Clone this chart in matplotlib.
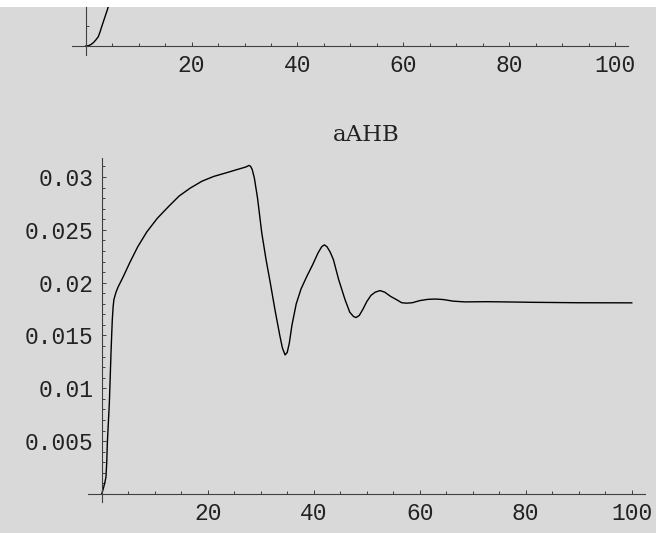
import matplotlib.pyplot as plt
from matplotlib.patches import Rectangle
from matplotlib.ticker import FixedLocator, FixedFormatter

# top panel (only its lower strip is visible)
top_t = [0.0, 0.19, 0.6, 1.0, 1.44, 1.9, 2.38, 2.7, 3.02, 3.65, 4.28, 5.0]
top_val = [0.0, 0.0, 0.005, 0.015, 0.033, 0.06, 0.093, 0.14, 0.193, 0.293,
           0.393, 0.5]

# aAHB
t = [0.0, 0.3, 0.6, 0.8, 0.95, 1.06, 1.25, 1.44, 1.6, 1.75, 1.9, 2.0, 2.15,
     2.3, 2.7, 3.1, 4.0, 5.3, 6.8, 8.5, 10.5, 12.6, 14.6, 16.7, 18.9, 21.1,
     23.5, 25.5, 27.2, 27.8, 28.1, 28.4, 28.8, 29.4, 30.2, 31.0, 31.8, 32.7,
     33.6, 34.1, 34.6, 35.0, 35.4, 35.9, 36.7, 37.6, 38.7, 39.8, 40.8, 41.5,
     42.0, 42.5, 43.1, 43.7, 44.7, 45.9, 46.8, 47.5, 48.0, 48.6, 49.3, 50.0,
     50.8, 51.6, 52.5, 53.4, 54.5, 55.7, 56.6, 57.5, 58.6, 60.0, 61.5, 63.0,
     64.5, 66.3, 68.5, 72.6, 76.0, 81.4, 90.0, 100.0]
aAHB = [0.0, 0.0005, 0.0011, 0.0016, 0.0030, 0.0048, 0.0067, 0.0086, 0.0110,
        0.0133, 0.0153, 0.0165, 0.0177, 0.0184, 0.0191, 0.0196, 0.0205,
        0.0219, 0.0234, 0.0248, 0.0261, 0.0272, 0.0282, 0.02895, 0.0296,
        0.03005, 0.0304, 0.0307, 0.03095, 0.0311, 0.0310, 0.0307, 0.0299,
        0.0280, 0.0247, 0.0222, 0.0200, 0.0174, 0.0150, 0.0138, 0.01316,
        0.0134, 0.0143, 0.0160, 0.0180, 0.0194, 0.0206, 0.0217, 0.0228,
        0.0234, 0.02358, 0.0234, 0.0229, 0.0222, 0.0203, 0.0184, 0.0172,
        0.0168, 0.0167, 0.0169, 0.0175, 0.0182, 0.0188, 0.0191, 0.01925,
        0.0191, 0.0187, 0.01837, 0.0181, 0.01806, 0.0181, 0.0183, 0.01842,
        0.01845, 0.0184, 0.01825, 0.01818, 0.0182, 0.01818, 0.01814, 0.0181,
        0.01809]

x_major = [20, 40, 60, 80, 100]
x_minor = [5, 10, 15, 25, 30, 35, 45, 50, 55, 65, 70, 75, 85, 90, 95]
y_major = [0.005, 0.01, 0.015, 0.02, 0.025, 0.03]
y_labels = ["0.005", "0.01", "0.015", "0.02", "0.025", "0.03"]
y_minor = [0.001, 0.002, 0.003, 0.004, 0.006, 0.007, 0.008, 0.009, 0.011,
           0.012, 0.013, 0.014, 0.016, 0.017, 0.018, 0.019, 0.021, 0.022,
           0.023, 0.024, 0.026, 0.027, 0.028, 0.029, 0.031]

W, H = 656, 533
BG = '#d9d9d9'
AX = '#404040'
TICKFONT = 'Liberation Mono'
TICKSIZE = 16.5


def px_axes(fig, x0, y0, x1, y1):
    """axes from pixel box (left, top, right, bottom)"""
    return fig.add_axes([x0 / W, 1 - y1 / H, (x1 - x0) / W, (y1 - y0) / H])


def style_axes(ax):
    ax.set_facecolor('none')
    for side in ['top', 'right']:
        ax.spines[side].set_visible(False)
    for side in ['left', 'bottom']:
        ax.spines[side].set_position(('data', 0))
        ax.spines[side].set_color(AX)
        ax.spines[side].set_linewidth(0.8)
    ax.tick_params(which='both', direction='in', color=AX, width=0.7)
    ax.tick_params(which='major', length=3.2)
    ax.tick_params(which='minor', length=2.0)
    ax.xaxis.set_major_locator(FixedLocator(x_major))
    ax.xaxis.set_minor_locator(FixedLocator(x_minor))
    ax.tick_params(axis='x', pad=5.5, labelsize=TICKSIZE, labelcolor='#222222')
    for lab in ax.get_xticklabels():
        lab.set_family(TICKFONT)


fig = plt.figure(figsize=(W / 100, H / 100), dpi=100, facecolor='white')
fig.patches.append(Rectangle((0, 0), 1, 1 - 7 / H, transform=fig.transFigure,
                             facecolor=BG, edgecolor='none', zorder=-10))

# top panel
ax1 = px_axes(fig, 72, 7, 628, 55)
style_axes(ax1)
ax1.plot(top_t, top_val, color='black', lw=1.0, solid_joinstyle='round')
ax1.set_xlim(-2.59, 102.45)
ax1.set_ylim(-0.09, 0.39)
ax1.yaxis.set_major_locator(FixedLocator([0.2]))
ax1.yaxis.set_major_formatter(FixedFormatter(['']))
ax1.yaxis.set_minor_locator(FixedLocator([]))
ax1.tick_params(axis='y', which='major', length=2.0)

# bottom panel
ax2 = px_axes(fig, 88.3, 158, 645, 502)
style_axes(ax2)
ax2.plot(t, aAHB, color='black', lw=1.0, solid_joinstyle='round')
ax2.set_xlim(-2.53, 102.5)
ax2.set_ylim(-0.00076, 0.0318)
ax2.yaxis.set_major_locator(FixedLocator(y_major))
ax2.yaxis.set_major_formatter(FixedFormatter(y_labels))
ax2.yaxis.set_minor_locator(FixedLocator(y_minor))
ax2.tick_params(axis='y', pad=6, labelsize=TICKSIZE, labelcolor='#222222')
for lab in ax2.get_yticklabels():
    lab.set_family(TICKFONT)

fig.text(366.7 / W, 1 - 135 / H, 'aAHB', ha='center', va='center',
         family='DejaVu Serif', fontsize=16.5, color='#222222')

fig.savefig('out.png', dpi=100, facecolor='white')
